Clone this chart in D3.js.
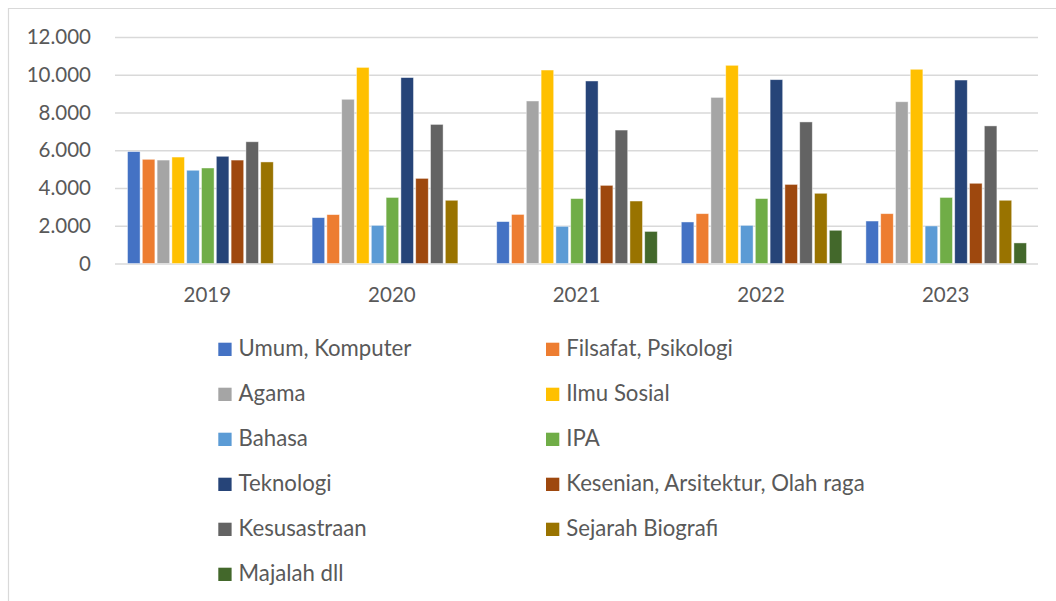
<!DOCTYPE html>
<html>
<head>
<meta charset="utf-8">
<script src="https://cdn.jsdelivr.net/npm/d3@7"></script>
<style>
  html, body { margin: 0; padding: 0; background: #fff; }
  svg { display: block; }
  text { font-family: Lato, "Open Sans", sans-serif; fill: #595959; }
</style>
</head>
<body>
<svg id="chart" width="1056" height="601"></svg>
<script>
// Book titles per subject group, 2019–2023
const years = ["2019", "2020", "2021", "2022", "2023"];
const seriesNames = [
  "Umum, Komputer", "Filsafat, Psikologi", "Agama", "Ilmu Sosial", "Bahasa", "IPA",
  "Teknologi", "Kesenian, Arsitektur, Olah raga", "Kesusastraan", "Sejarah Biografi", "Majalah dll"
];
const umumKomputer      = [5930, 2430, 2220, 2200, 2250];
const filsafatPsikologi = [5520, 2590, 2600, 2640, 2640];
const agama             = [5480, 8700, 8610, 8800, 8570];
const ilmuSosial        = [5640, 10390, 10250, 10500, 10290];
const bahasa            = [4940, 2020, 1970, 2020, 1990];
const ipa               = [5060, 3500, 3440, 3440, 3500];
const teknologi         = [5680, 9850, 9670, 9740, 9720];
const kesenian          = [5480, 4510, 4140, 4190, 4250];
const kesusastraan      = [6450, 7370, 7070, 7500, 7290];
const sejarahBiografi   = [5380, 3350, 3310, 3720, 3350];
const majalah           = [null, null, 1700, 1760, 1090];
const yTicks = [0, 2000, 4000, 6000, 8000, 10000, 12000];

const seriesValues = [umumKomputer, filsafatPsikologi, agama, ilmuSosial, bahasa, ipa,
  teknologi, kesenian, kesusastraan, sejarahBiografi, majalah];
const colors = ["#4472C4", "#ED7D31", "#A5A5A5", "#FFC000", "#5B9BD5", "#70AD47",
  "#264478", "#9E480E", "#636363", "#997300", "#43682B"];

const svg = d3.select("#chart");
const plot = { left: 115, right: 1038, top: 37, bottom: 263.5 };

// chart frame (top and left edges)
svg.append("line").attr("x1", 8).attr("x2", 1056).attr("y1", 8.5).attr("y2", 8.5)
  .attr("stroke", "#d9d9d9").attr("stroke-width", 1.2);
svg.append("line").attr("x1", 8.5).attr("x2", 8.5).attr("y1", 8).attr("y2", 601)
  .attr("stroke", "#d9d9d9").attr("stroke-width", 1.2);

const y = d3.scaleLinear().domain([0, 12000]).range([plot.bottom, plot.top]);
const x0 = d3.scaleBand().domain(years).range([plot.left, plot.right]).padding(0);
const bw = x0.bandwidth();
const x1 = d3.scaleBand().domain(d3.range(seriesNames.length))
  .range([12.5, bw - 11.5]).paddingInner(0.15).paddingOuter(0);

const fmt = v => d3.format(",")(v).replace(/,/g, ".");

// horizontal gridlines and value axis labels
const yAxis = d3.axisLeft(y).tickValues(yTicks).tickSize(-(plot.right - plot.left))
  .tickPadding(24).tickFormat(fmt);
const gy = svg.append("g").attr("transform", `translate(${plot.left},0)`).call(yAxis);
gy.select(".domain").remove();
gy.selectAll(".tick line").attr("stroke", "#d9d9d9").attr("stroke-width", 1.3);
gy.selectAll(".tick text").attr("font-size", 20.5).attr("fill", "#595959")
  .style("font-family", "Lato, sans-serif");

// category axis labels
const xAxis = d3.axisBottom(x0).tickSize(0).tickPadding(24);
const gx = svg.append("g").attr("transform", `translate(0,${plot.bottom})`).call(xAxis);
gx.select(".domain").remove();
gx.selectAll(".tick text").attr("font-size", 20.5).attr("fill", "#595959")
  .style("font-family", "Lato, sans-serif");

// clustered bars
const groups = svg.append("g").selectAll("g").data(years).join("g")
  .attr("transform", d => `translate(${x0(d)},0)`);
groups.selectAll("rect")
  .data((yr, yi) => seriesValues.map((vals, si) => ({ si, v: vals[yi] })).filter(d => d.v != null))
  .join("rect")
  .attr("x", d => x1(d.si))
  .attr("width", x1.bandwidth())
  .attr("y", d => y(d.v))
  .attr("height", d => y(0) - y(d.v))
  .attr("fill", d => colors[d.si])
  .attr("stroke", "#fff").attr("stroke-opacity", 0.55).attr("stroke-width", 0.8);

// legend in two columns
const legend = svg.append("g");
const items = legend.selectAll("g").data(seriesNames).join("g")
  .attr("transform", (d, i) => `translate(${i % 2 === 0 ? 218.3 : 546},${356 + Math.floor(i / 2) * 45})`);
items.append("rect").attr("x", 0).attr("y", -13.3).attr("width", 13.3).attr("height", 13.3)
  .attr("fill", (d, i) => colors[i]);
items.append("text").attr("x", 20.3).attr("y", 0).attr("font-size", 22.2).text(d => d);
</script>
</body>
</html>
